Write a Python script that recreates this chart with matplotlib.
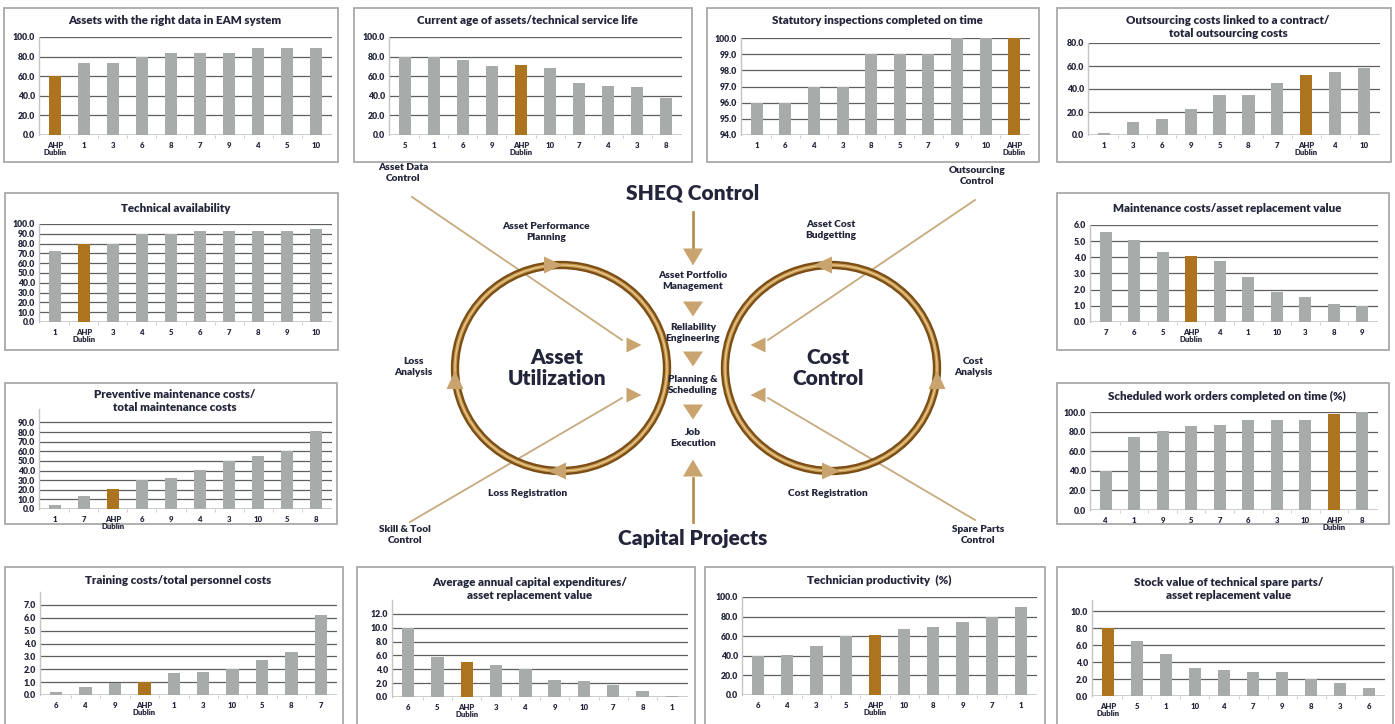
import matplotlib
matplotlib.use('Agg')
import matplotlib.pyplot as plt
from matplotlib.patches import Rectangle, Ellipse, Polygon

W, H = 1395, 724
plt.rcParams['font.family'] = ['Lato', 'DejaVu Sans']
plt.rcParams['font.weight'] = 'bold'

TXT = '#23253a'
GRAY = '#a7abaa'
BROWN = '#ad7420'
TAN = '#c9a46e'
AHP = 'AHP\nDublin'

# ---------------- data ----------------
eam_title = 'Assets with the right data in EAM system'
eam_cats = [AHP, '1', '3', '6', '8', '7', '9', '4', '5', '10']
eam_vals = [60, 73.5, 73.5, 80, 84, 84, 84, 89, 89, 89]
eam_ticks = [0, 20, 40, 60, 80, 100]

age_title = 'Current age of assets/technical service life'
age_cats = ['5', '1', '6', '9', AHP, '10', '7', '4', '3', '8']
age_vals = [80, 80, 77, 70.5, 71, 68.5, 53, 49.5, 48.5, 38]
age_ticks = [0, 20, 40, 60, 80, 100]

stat_title = 'Statutory inspections completed on time'
stat_cats = ['1', '6', '4', '3', '8', '5', '7', '9', '10', AHP]
stat_vals = [96, 96, 97, 97, 99, 99, 99, 100, 100, 100]
stat_ticks = [94, 95, 96, 97, 98, 99, 100]

out_title = 'Outsourcing costs linked to a contract/\ntotal outsourcing costs'
out_cats = ['1', '3', '6', '9', '5', '8', '7', AHP, '4', '10']
out_vals = [2, 11, 14, 22.5, 34.5, 34.5, 45.5, 52, 55, 58]
out_ticks = [0, 20, 40, 60, 80]

avail_title = 'Technical availability'
avail_cats = ['1', AHP, '3', '4', '5', '6', '7', '8', '9', '10']
avail_vals = [72, 80, 80, 90, 90, 92.5, 92.5, 92.5, 92.5, 95]
avail_ticks = [0, 10, 20, 30, 40, 50, 60, 70, 80, 90, 100]

prev_title = 'Preventive maintenance costs/\ntotal maintenance costs'
prev_cats = ['1', '7', AHP, '6', '9', '4', '3', '10', '5', '8']
prev_vals = [4.5, 14, 21, 30.5, 32.5, 40.5, 50, 55.5, 60, 81.5]
prev_ticks = [0, 10, 20, 30, 40, 50, 60, 70, 80, 90]

mc_title = 'Maintenance costs/asset replacement value'
mc_cats = ['7', '6', '5', AHP, '4', '1', '10', '3', '8', '9']
mc_vals = [5.55, 5.05, 4.3, 4.1, 3.8, 2.8, 1.85, 1.55, 1.12, 1.0]
mc_ticks = [0, 1, 2, 3, 4, 5, 6]

swo_title = 'Scheduled work orders completed on time (%)'
swo_cats = ['4', '1', '9', '5', '7', '6', '3', '10', AHP, '8']
swo_vals = [40, 75, 81, 85.5, 87, 92, 92, 92, 97.5, 100]
swo_ticks = [0, 20, 40, 60, 80, 100]

train_title = 'Training costs/total personnel costs'
train_cats = ['6', '4', '9', AHP, '1', '3', '10', '5', '8', '7']
train_vals = [0.2, 0.6, 0.95, 1.0, 1.7, 1.75, 2.0, 2.75, 3.35, 6.2]
train_ticks = [0, 1, 2, 3, 4, 5, 6, 7]

capex_title = 'Average annual capital expenditures/\nasset replacement value'
capex_cats = ['6', '5', AHP, '3', '4', '9', '10', '7', '8', '1']
capex_vals = [9.9, 5.8, 5.1, 4.6, 4.0, 2.5, 2.25, 1.7, 0.8, 0.2]
capex_ticks = [0, 2, 4, 6, 8, 10, 12]

prod_title = 'Technician productivity  (%)'
prod_cats = ['6', '4', '3', '5', AHP, '10', '8', '9', '7', '1']
prod_vals = [39.5, 40.5, 50, 60, 61, 67, 69.5, 74.5, 80, 90]
prod_ticks = [0, 20, 40, 60, 80, 100]

stock_title = 'Stock value of technical spare parts/\nasset replacement value'
stock_cats = [AHP, '5', '1', '10', '4', '7', '9', '8', '3', '6']
stock_vals = [8.0, 6.5, 4.9, 3.35, 3.05, 2.8, 2.8, 1.95, 1.5, 1.0]
stock_ticks = [0, 2, 4, 6, 8, 10]

# ---------------- layout (pixels) ----------------
# box (l, t, r, b), axes (l, t, r, b), ylim top, title y
panels = [
    (eam_title, eam_cats, eam_vals, eam_ticks, (4, 8, 338, 162), (39, 37, 332, 135), 100, 20),
    (age_title, age_cats, age_vals, age_ticks, (354, 8, 692, 162), (389, 37, 682, 135), 100, 20),
    (stat_title, stat_cats, stat_vals, stat_ticks, (707, 8, 1039, 162), (741, 38, 1030, 135), 100, 20),
    (out_title, out_cats, out_vals, out_ticks, (1057, 8, 1391, 162), (1088, 43, 1380, 135), 80, 27),
    (avail_title, avail_cats, avail_vals, avail_ticks, (5, 193, 338, 350), (39, 224, 332, 322), 100, 208),
    (prev_title, prev_cats, prev_vals, prev_ticks, (5, 383, 337, 524), (39, 409, 332, 509), 104, 401),
    (mc_title, mc_cats, mc_vals, mc_ticks, (1057, 193, 1389, 350), (1090, 225, 1378, 322), 6, 208),
    (swo_title, swo_cats, swo_vals, swo_ticks, (1057, 383, 1389, 524), (1090, 412, 1378, 510), 100, 396),
    (train_title, train_cats, train_vals, train_ticks, (5, 567, 343, 730), (40, 592, 337, 695), 8, 580),
    (capex_title, capex_cats, capex_vals, capex_ticks, (357, 567, 695, 730), (392, 600, 688, 697), 14, 589),
    (prod_title, prod_cats, prod_vals, prod_ticks, (705, 567, 1045, 730), (742, 597, 1037, 695), 100, 580),
    (stock_title, stock_cats, stock_vals, stock_ticks, (1057, 567, 1393, 730), (1092, 600, 1385, 696), 11.3, 589),
]

fig = plt.figure(figsize=(W / 100, H / 100), dpi=100)
fig.patch.set_facecolor('white')

bg = fig.add_axes([0, 0, 1, 1])
bg.set_xlim(0, W)
bg.set_ylim(H, 0)
bg.axis('off')


def tri(ax, x, y, dx, dy, L=16, Wd=15, color=TAN):
    n = (dx * dx + dy * dy) ** 0.5
    dx, dy = dx / n, dy / n
    px, py = -dy, dx
    pts = [(x + dx * L / 2, y + dy * L / 2),
           (x - dx * L / 2 + px * Wd / 2, y - dy * L / 2 + py * Wd / 2),
           (x - dx * L / 2 - px * Wd / 2, y - dy * L / 2 - py * Wd / 2)]
    ax.add_patch(Polygon(pts, closed=True, facecolor=color, edgecolor='none', zorder=5))


# ---------------- chart panels ----------------
for title, cats, vals, ticks, box, rect, ytop, ty in panels:
    bl, bt, br, bb = box
    bg.add_patch(Rectangle((bl, bt), br - bl, bb - bt, facecolor='white',
                           edgecolor='#a9a9a9', lw=1.3, zorder=1))
    bg.text((bl + br) / 2 + 4, ty, title, ha='center', va='center', fontsize=8.3,
            fontweight='heavy', color=TXT, linespacing=1.15, zorder=6)
    l, t, r, b = rect
    ax = fig.add_axes([l / W, 1 - b / H, (r - l) / W, (b - t) / H])
    ax.patch.set_alpha(0)
    x = list(range(len(cats)))
    colors = [BROWN if c == AHP else GRAY for c in cats]
    ax.bar(x, vals, width=0.42, color=colors, zorder=3)
    ax.set_xlim(-0.55, len(cats) - 0.45)
    ax.set_ylim(ticks[0], ytop)
    for tv in ticks[1:]:
        ax.axhline(tv, color='#5f5f5f', lw=0.9, zorder=1)
    ax.axhline(ticks[0], color='#c4c4c4', lw=1.2, zorder=2)
    ax.set_yticks(ticks)
    ax.set_yticklabels([f'{tv:.1f}' for tv in ticks])
    ax.set_xticks(x)
    ax.set_xticklabels(cats)
    ax.set_xticks([k + 0.5 for k in x[:-1]], minor=True)
    ax.tick_params(axis='y', length=0, labelsize=6.3, labelcolor=TXT, pad=3)
    ax.tick_params(axis='x', which='major', length=0, labelsize=5.6, labelcolor=TXT, pad=5)
    ax.tick_params(axis='x', which='minor', length=2, color='#c4c4c4', direction='out')
    for lab in ax.get_xticklabels() + ax.get_yticklabels():
        lab.set_fontweight('heavy')
        lab.set_linespacing(0.95)
    for s in ['top', 'right', 'bottom']:
        ax.spines[s].set_visible(False)
    ax.spines['left'].set_color('#c4c4c4')
    ax.spines['left'].set_linewidth(1.0)

# ---------------- central diagram ----------------
cxL, cxR, cy, a, b = 561, 831, 368, 106, 103
for cx in (cxL, cxR):
    bg.add_patch(Ellipse((cx, cy), 2 * a, 2 * b, facecolor='none', edgecolor='#7a4e15', lw=6, zorder=3))
    bg.add_patch(Ellipse((cx, cy), 2 * a, 2 * b, facecolor='none', edgecolor='#c99a50', lw=2.6, zorder=3))
    bg.add_patch(Ellipse((cx, cy), 2 * a, 2 * b, facecolor='none', edgecolor='#ecd2a0', lw=0.7, zorder=3))

# ring arrowheads
tri(bg, cxL - 8, cy - b, 1, 0, 18, 17)
tri(bg, cxL - a, cy + 12, 0, -1, 18, 17)
tri(bg, cxL - 4, cy + b, -1, 0, 18, 17)
tri(bg, cxR - 8, cy - b, -1, 0, 18, 17)
tri(bg, cxR + a, cy + 12, 0, -1, 18, 17)
tri(bg, cxR, cy + b, 1, 0, 18, 17)

# diagonal control lines
LINE = '#c7a97f'
bg.plot([412, 622], [197, 340], color=LINE, lw=1.3, zorder=2)
bg.plot([410, 622], [522, 398], color=LINE, lw=1.3, zorder=2)
bg.plot([975, 768], [200, 340], color=LINE, lw=1.3, zorder=2)
bg.plot([975, 768], [520, 398], color=LINE, lw=1.3, zorder=2)
tri(bg, 634, 345, 1, 0, 15, 15)
tri(bg, 634, 395, 1, 0, 15, 15)
tri(bg, 758, 345, -1, 0, 15, 15)
tri(bg, 758, 395, -1, 0, 15, 15)

# central vertical chain
CX = 693
bg.plot([CX, CX], [212, 250], color='#b98f55', lw=2, zorder=2)
tri(bg, CX, 257, 0, 1, 17, 20)
tri(bg, CX, 309, 0, 1, 15, 20)
tri(bg, CX, 359, 0, 1, 15, 20)
tri(bg, CX, 412, 0, 1, 15, 20)
bg.plot([CX, CX], [522, 478], color='#b98f55', lw=2, zorder=2)
tri(bg, CX, 468, 0, -1, 17, 20)

big = dict(ha='center', va='center', color=TXT, fontweight='heavy', zorder=6)
bg.text(CX, 193, 'SHEQ Control', fontsize=15, **big)
bg.text(CX, 538, 'Capital Projects', fontsize=15, **big)
bg.text(cxL - 4, 368, 'Asset\nUtilization', fontsize=15, linespacing=1.15, **big)
bg.text(cxR - 3, 368, 'Cost\nControl', fontsize=15, linespacing=1.15, **big)

sm = dict(ha='center', va='center', color=TXT, fontweight='heavy', fontsize=7.3, linespacing=1.2, zorder=6)
bg.text(CX, 281, 'Asset Portfolio\nManagement', **sm)
bg.text(CX, 333, 'Reliability\nEngineering', **sm)
bg.text(CX, 385, 'Planning &\nScheduling', **sm)
bg.text(CX, 438, 'Job\nExecution', **sm)
bg.text(403, 173, 'Asset Data\nControl', **sm)
bg.text(546, 232, 'Asset Performance\nPlanning', **sm)
bg.text(831, 230, 'Asset Cost\nBudgetting', **sm)
bg.text(977, 176, 'Outsourcing\nControl', **sm)
bg.text(413, 367, 'Loss\nAnalysis', **sm)
bg.text(973, 367, 'Cost\nAnalysis', **sm)
bg.text(528, 494, 'Loss Registration', **sm)
bg.text(828, 494, 'Cost Registration', **sm)
bg.text(405, 535, 'Skill & Tool\nControl', **sm)
bg.text(978, 535, 'Spare Parts\nControl', **sm)

fig.savefig('out.png', dpi=100, facecolor='white')
